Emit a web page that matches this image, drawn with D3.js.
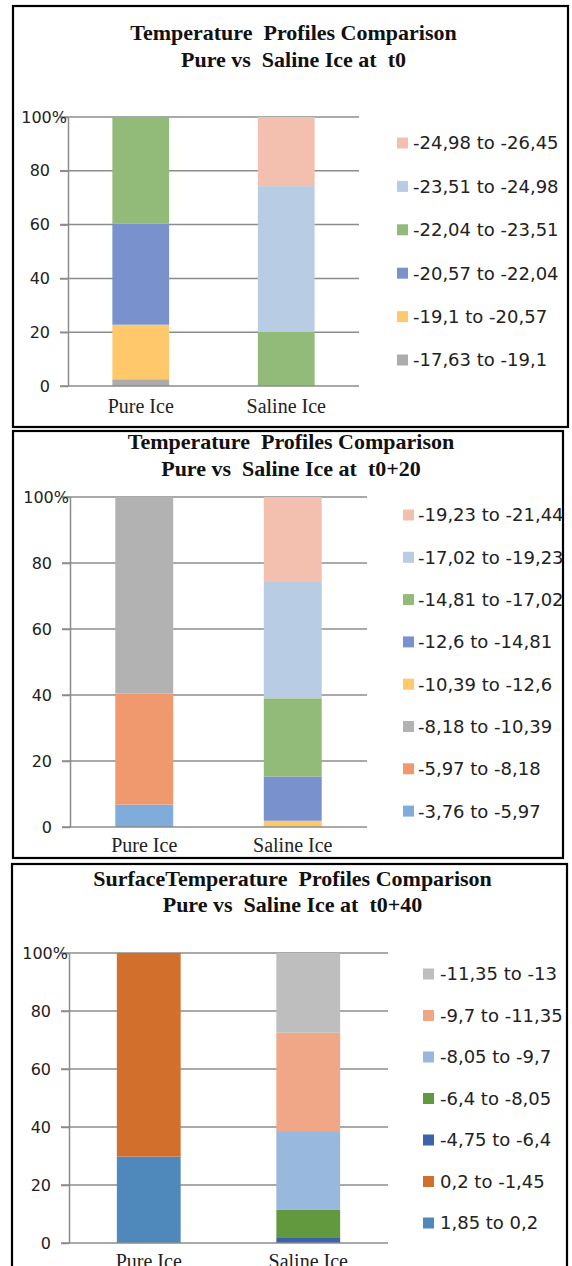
<!DOCTYPE html>
<html>
<head>
<meta charset="utf-8">
<script src="https://cdn.jsdelivr.net/npm/d3@7"></script>
<style>
  body { margin: 0; background: #fff; }
  svg text { white-space: pre; }
</style>
</head>
<body>
<svg id="chart" width="572" height="1266"></svg>
<script>
// categories + y ticks
const categories = ["Pure Ice", "Saline Ice"];
const yTicks = [0, 20, 40, 60, 80, 100];

// panel 1 : t0  (series listed bottom -> top of the stack)
const t0Title = ["Temperature  Profiles Comparison", "Pure vs  Saline Ice at  t0"];
const t0Ranges = ["-17,63 to -19,1", "-19,1 to -20,57", "-20,57 to -22,04", "-22,04 to -23,51", "-23,51 to -24,98", "-24,98 to -26,45"];
const t0Pure   = [2.5, 20.3, 37.5, 39.7, 0, 0];
const t0Saline = [0, 0, 0, 20.1, 54.2, 25.7];
const t0Colors = ["#acacac", "#ffc96b", "#7991cc", "#92ba78", "#b8cce4", "#f3c0b0"];

// panel 2 : t0+20
const t20Title = ["Temperature  Profiles Comparison", "Pure vs  Saline Ice at  t0+20"];
const t20Ranges = ["-3,76 to -5,97", "-5,97 to -8,18", "-8,18 to -10,39", "-10,39 to -12,6", "-12,6 to -14,81", "-14,81 to -17,02", "-17,02 to -19,23", "-19,23 to -21,44"];
const t20Pure   = [6.8, 33.7, 59.5, 0, 0, 0, 0, 0];
const t20Saline = [0, 0, 0, 1.9, 13.4, 23.7, 35.5, 25.5];
const t20Colors = ["#80acdb", "#f0986e", "#b2b2b2", "#ffc96b", "#7991cc", "#92ba78", "#b8cce4", "#f3c0b0"];

// panel 3 : t0+40
const t40Title = ["SurfaceTemperature  Profiles Comparison", "Pure vs  Saline Ice at  t0+40"];
const t40Ranges = ["1,85 to 0,2", "0,2 to -1,45", "-4,75 to -6,4", "-6,4 to -8,05", "-8,05 to -9,7", "-9,7 to -11,35", "-11,35 to -13"];
const t40Pure   = [29.8, 70.2, 0, 0, 0, 0, 0];
const t40Saline = [0, 0, 2.0, 9.4, 27.2, 33.9, 27.5];
const t40Colors = ["#4f88bb", "#d26f2d", "#3d62ad", "#62993e", "#98b8dd", "#f0a788", "#bebebe"];

const svg = d3.select("#chart");

const panels = [
  { title: t0Title, ranges: t0Ranges, pure: t0Pure, saline: t0Saline, colors: t0Colors,
    box: [13, 6, 568, 427], plot: { x0: 68, x1: 359, y0: 117, y1: 386 },
    titleY: [40, 67], legend: { sx: 397, y0: 143, dy: 43.4, tx: 413 }, catY: 413, pad: 0.61 },
  { title: t20Title, ranges: t20Ranges, pure: t20Pure, saline: t20Saline, colors: t20Colors,
    box: [13, 431, 563, 858], plot: { x0: 70, x1: 367, y0: 497, y1: 827 },
    titleY: [449, 476], legend: { sx: 403, y0: 515, dy: 42.3, tx: 418 }, catY: 852, pad: 0.61 },
  { title: t40Title, ranges: t40Ranges, pure: t40Pure, saline: t40Saline, colors: t40Colors,
    box: [12, 864, 567, 1275], plot: { x0: 69, x1: 388, y0: 953, y1: 1243 },
    titleY: [886, 912], legend: { sx: 423, y0: 974, dy: 41.5, tx: 440 }, catY: 1268, pad: 0.6 }
];

panels.forEach(p => drawPanel(p));

function drawPanel(p) {
  const g = svg.append("g");
  const [bx0, by0, bx1, by1] = p.box;

  g.append("rect")
    .attr("x", bx0).attr("y", by0)
    .attr("width", bx1 - bx0).attr("height", by1 - by0)
    .attr("fill", "#fff").attr("stroke", "#000").attr("stroke-width", 2.2);

  // title
  const cx = (bx0 + bx1) / 2 + 3;
  p.title.forEach((t, i) => {
    g.append("text")
      .attr("x", cx).attr("y", p.titleY[i])
      .attr("text-anchor", "middle")
      .attr("font-family", "'Liberation Serif', 'Times New Roman', serif")
      .attr("font-weight", "bold")
      .attr("font-size", 22)
      .attr("fill", "#111")
      .text(t);
  });

  const x = d3.scaleBand()
    .domain(categories)
    .range([p.plot.x0, p.plot.x1])
    .paddingInner(p.pad).paddingOuter(p.pad / 2);

  const y = d3.scaleLinear().domain([0, 100]).range([p.plot.y1, p.plot.y0]);

  // gridlines
  g.append("g").selectAll("line")
    .data(yTicks.filter(d => d > 0))
    .join("line")
      .attr("x1", p.plot.x0 - 8).attr("x2", p.plot.x1)
      .attr("y1", d => y(d)).attr("y2", d => y(d))
      .attr("stroke", "#8c8c8c").attr("stroke-width", 1.5);

  // stacked bars
  const rows = categories.map((c, ci) => {
    const o = { cat: c };
    p.ranges.forEach((r, i) => { o[r] = ci === 0 ? p.pure[i] : p.saline[i]; });
    return o;
  });
  const series = d3.stack().keys(p.ranges)(rows);

  g.append("g").selectAll("g")
    .data(series)
    .join("g")
      .attr("fill", (d, i) => p.colors[i])
    .selectAll("rect")
    .data(d => d.filter(v => v[1] - v[0] > 0))
    .join("rect")
      .attr("x", d => x(d.data.cat))
      .attr("width", x.bandwidth())
      .attr("y", d => y(d[1]))
      .attr("height", d => y(d[0]) - y(d[1]));

  // y axis
  const yAxis = d3.axisLeft(y)
    .tickValues(yTicks)
    .tickSize(8)
    .tickSizeOuter(0)
    .tickFormat(d => d === 100 ? "100%" : d);

  const ay = g.append("g")
    .attr("transform", `translate(${p.plot.x0},0)`)
    .call(yAxis);
  ay.select(".domain").attr("stroke", "#8c8c8c").attr("stroke-width", 1.5);
  ay.selectAll(".tick line").attr("stroke", "#8c8c8c").attr("stroke-width", 1.5);
  ay.selectAll(".tick text")
    .attr("x", d => d === 100 ? -1 : -18)
    .attr("font-family", "'DejaVu Sans', Verdana, sans-serif")
    .attr("font-size", 16)
    .attr("fill", "#222");

  // baseline
  g.append("line")
    .attr("x1", p.plot.x0 - 8).attr("x2", p.plot.x1)
    .attr("y1", y(0)).attr("y2", y(0))
    .attr("stroke", "#8c8c8c").attr("stroke-width", 1.5);

  // category labels
  g.append("g").selectAll("text")
    .data(categories)
    .join("text")
      .attr("x", d => x(d) + x.bandwidth() / 2)
      .attr("y", p.catY)
      .attr("text-anchor", "middle")
      .attr("font-family", "'Liberation Serif', 'Times New Roman', serif")
      .attr("font-size", 20)
      .attr("fill", "#222")
      .text(d => d);

  // legend (top of stack first)
  const leg = p.ranges.map((r, i) => ({ r, c: p.colors[i] })).reverse();
  const lg = g.append("g").selectAll("g")
    .data(leg)
    .join("g")
      .attr("transform", (d, i) => `translate(0,${p.legend.y0 + i * p.legend.dy})`);
  lg.append("rect")
    .attr("x", p.legend.sx).attr("y", -5.5)
    .attr("width", 11).attr("height", 11)
    .attr("fill", d => d.c);
  lg.append("text")
    .attr("x", p.legend.tx).attr("y", 0)
    .attr("dy", "0.36em")
    .attr("font-family", "'DejaVu Sans', Verdana, sans-serif")
    .attr("font-size", 18)
    .attr("fill", "#222")
    .text(d => d.r);
}
</script>
</body>
</html>
